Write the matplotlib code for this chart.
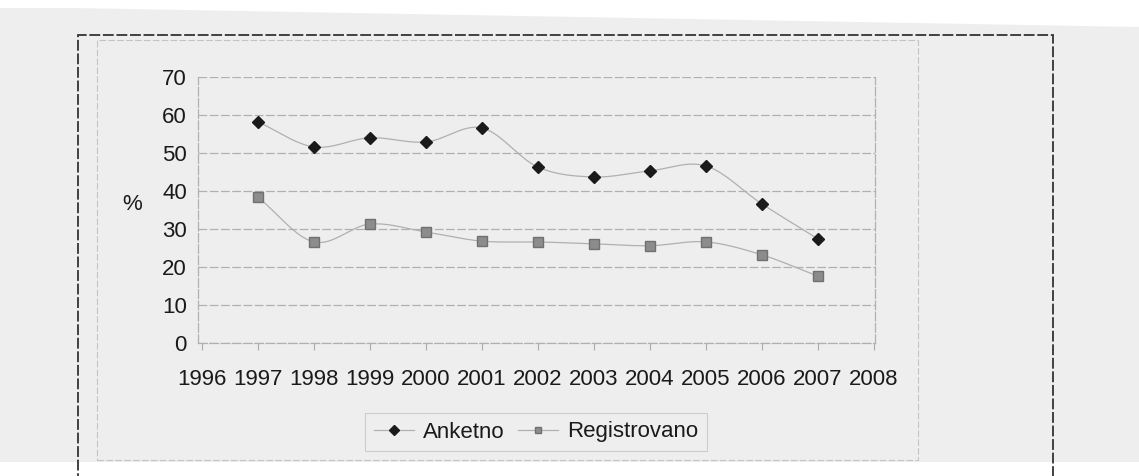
import numpy as np
import matplotlib.pyplot as plt
from matplotlib.patches import Rectangle, Polygon

# data
years = [1997, 1998, 1999, 2000, 2001, 2002, 2003, 2004, 2005, 2006, 2007]
anketno = [58.2, 51.6, 54.0, 52.9, 56.6, 46.3, 43.7, 45.3, 46.6, 36.6, 27.4]
registrovano = [38.4, 26.6, 31.3, 29.2, 26.8, 26.6, 26.1, 25.6, 26.6, 23.2, 17.6]
year_labels = [str(y) for y in range(1996, 2009)]
y_ticks = [0, 10, 20, 30, 40, 50, 60, 70]

plt.rcParams['font.family'] = ['Liberation Sans', 'DejaVu Sans']


def smooth(xs, ys, n=20):
    # catmull-rom curve through the points, like excel's smoothed line
    xs = np.asarray(xs, float)
    ys = np.asarray(ys, float)
    px = np.concatenate([[2 * xs[0] - xs[1]], xs, [2 * xs[-1] - xs[-2]]])
    py = np.concatenate([[2 * ys[0] - ys[1]], ys, [2 * ys[-1] - ys[-2]]])
    t = np.linspace(0, 1, n)
    out_x, out_y = [], []
    for i in range(1, len(px) - 2):
        for p, out in ((px, out_x), (py, out_y)):
            p0, p1, p2, p3 = p[i - 1], p[i], p[i + 1], p[i + 2]
            out.extend(0.5 * (2 * p1 + (-p0 + p2) * t + (2 * p0 - 5 * p1 + 4 * p2 - p3) * t ** 2
                              + (-p0 + 3 * p1 - 3 * p2 + p3) * t ** 3))
    return out_x, out_y


fig = plt.figure(figsize=(11.39, 4.76), dpi=100)
fig.patch.set_facecolor('#eeeeee')

# scanned page edges
fig.patches.append(Polygon([(0, 1), (1, 1), (1, 1 - 27 / 476), (73 / 1139, 1 - 8 / 476), (0, 1 - 8 / 476)],
                           closed=True, transform=fig.transFigure, facecolor='white', edgecolor='none'))
fig.patches.append(Rectangle((0, 0), 1, 14 / 476, transform=fig.transFigure,
                             facecolor='white', edgecolor='none'))
# outer frame and chart area
fig.patches.append(Rectangle((78 / 1139, -0.1), (1053 - 78) / 1139, 1.1 - 35 / 476, transform=fig.transFigure,
                             facecolor='none', edgecolor='#333333', lw=1.3, ls=(0, (6, 1.5))))
fig.patches.append(Rectangle((97 / 1139, 16 / 476), (918 - 97) / 1139, (460 - 40) / 476,
                             transform=fig.transFigure, facecolor='none', edgecolor='#c4c4c4',
                             lw=0.8, ls=(0, (6, 2))))

ax = fig.add_axes([198 / 1139, 1 - 343 / 476, (875 - 198) / 1139, (343 - 77) / 476])
ax.set_facecolor('#eeeeee')

sx, sy = smooth(years, anketno)
ax.plot(sx, sy, color='#b0b0b0', lw=0.9, zorder=2)
sx, sy = smooth(years, registrovano)
ax.plot(sx, sy, color='#b0b0b0', lw=0.9, zorder=2)
ax.plot(years, anketno, ls='none', marker='D', ms=6.5, color='#1a1a1a', zorder=3)
ax.plot(years, registrovano, ls='none', marker='s', ms=6.5, mfc='#8c8c8c', mec='#707070', zorder=3)

# legend proxies
ax.plot([], [], color='#b0b0b0', lw=0.9, marker='D', ms=5, mfc='#1a1a1a', mec='#1a1a1a', label='Anketno')
ax.plot([], [], color='#b0b0b0', lw=0.9, marker='s', ms=5, mfc='#8c8c8c', mec='#707070', label='Registrovano')

ax.set_xlim(1995.93, 2008.02)
ax.set_ylim(0, 70)
ax.set_yticks(y_ticks)
ax.set_xticks(range(1996, 2009))
ax.set_xticklabels(year_labels)
ax.tick_params(axis='y', length=0, pad=8, labelsize=16, labelcolor='#1a1a1a')
ax.tick_params(axis='x', length=5, width=0.8, color='#aaaaaa', direction='out', pad=14, labelsize=16,
               labelcolor='#1a1a1a')
ax.grid(axis='y', color='#b0b0b0', lw=0.9, ls=(0, (7, 2)))
for s in ('left', 'bottom', 'right'):
    ax.spines[s].set_color('#b0b0b0')
    ax.spines[s].set_linestyle((0, (7, 2)))
    ax.spines[s].set_linewidth(0.9)
ax.spines['top'].set_visible(False)
ax.set_ylabel('%', rotation=0, fontsize=16, labelpad=14, va='center', color='#1a1a1a')
ax.yaxis.set_label_coords(-0.098, 0.52)

leg = fig.legend(loc='center', bbox_to_anchor=(536 / 1139, 1 - 432 / 476), ncol=2, fontsize=16,
                 frameon=True, fancybox=False, handlelength=1.8, columnspacing=0.6, handletextpad=0.4,
                 borderpad=0.4)
leg.get_frame().set_edgecolor('#c4c4c4')
leg.get_frame().set_facecolor('#eeeeee')
leg.get_frame().set_linewidth(0.8)
for t in leg.get_texts():
    t.set_color('#1a1a1a')

fig.savefig('out.png', dpi=100, facecolor=fig.get_facecolor())
